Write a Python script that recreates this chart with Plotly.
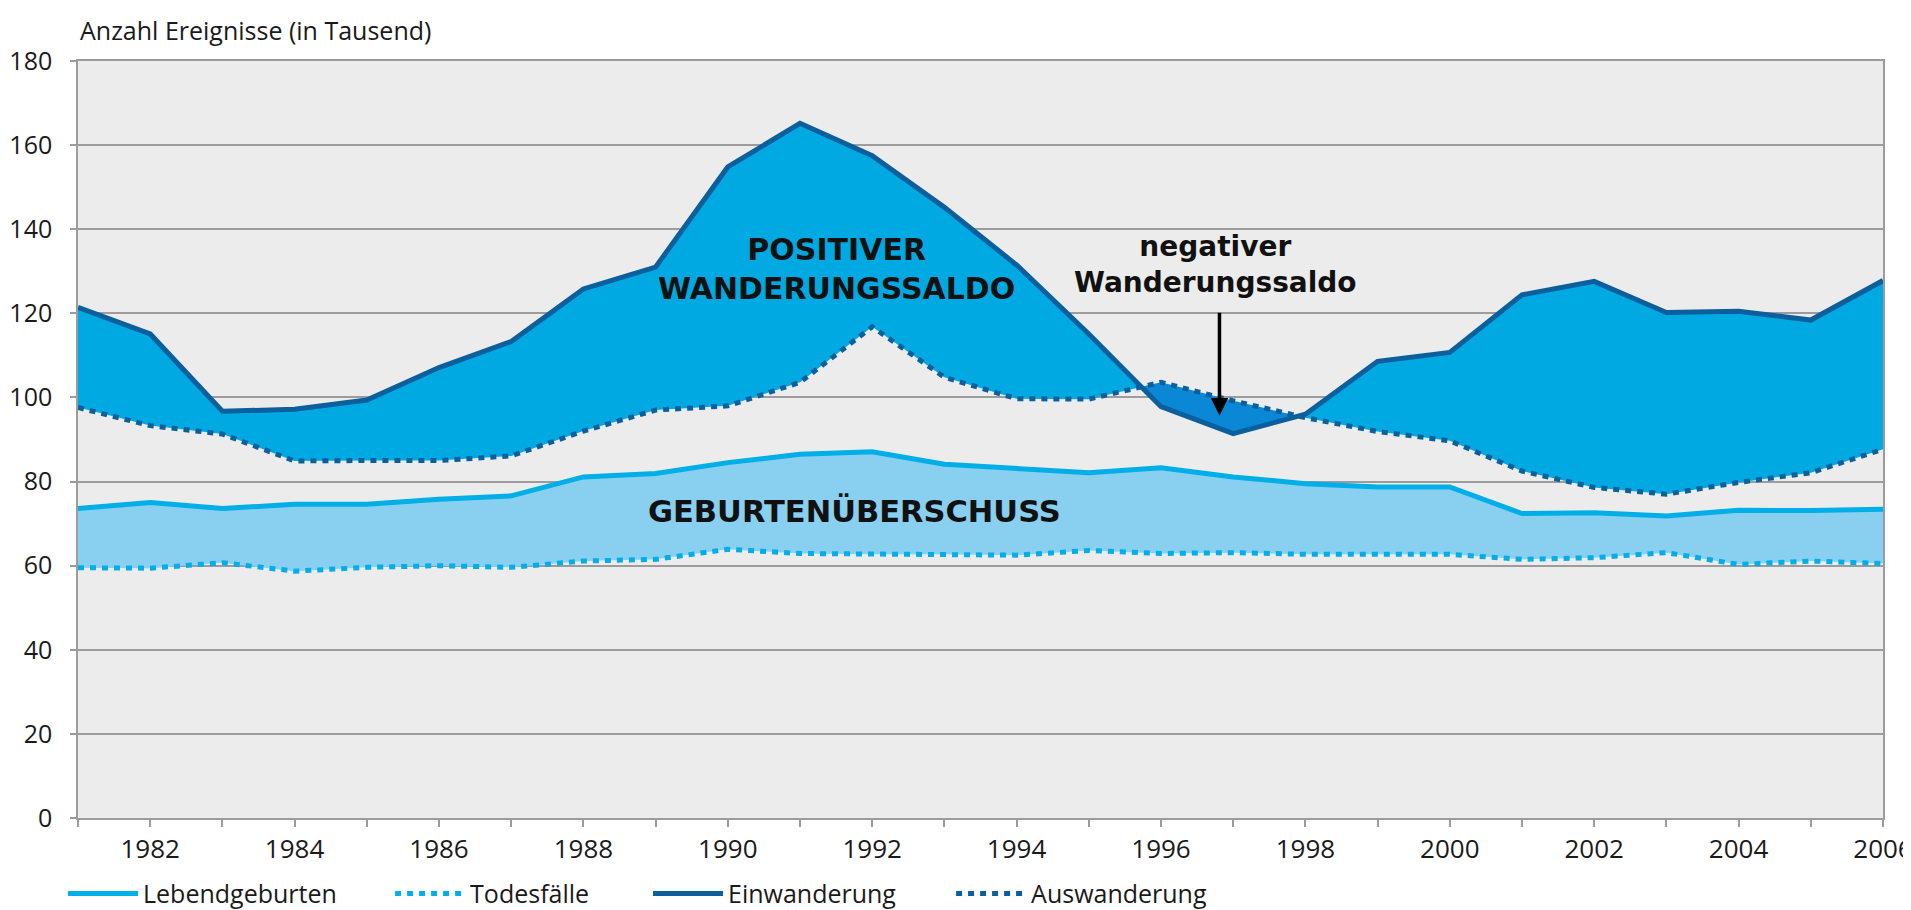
import plotly.graph_objects as go

years = list(range(1981, 2007))
einwanderung = [121.4, 115.1, 96.7, 97.2, 99.4, 107.1, 113.3, 125.8, 131.0, 154.8, 165.2, 157.5, 145.2,
                131.5, 115.1, 97.8, 91.4, 96.0, 108.6, 110.7, 124.4, 127.6, 120.2, 120.5, 118.4, 127.8]
auswanderung = [97.6, 93.3, 91.3, 84.9, 85.0, 85.0, 86.1, 92.0, 97.0, 98.0, 103.6, 116.8, 104.8,
                99.7, 99.6, 103.6, 99.2, 95.2, 91.9, 89.7, 82.5, 78.6, 77.0, 79.8, 82.1, 87.7]
lebendgeburten = [73.6, 75.0, 73.6, 74.6, 74.6, 75.8, 76.6, 81.1, 81.9, 84.5, 86.5, 87.1, 84.1,
                  83.1, 82.1, 83.3, 81.1, 79.5, 78.7, 78.7, 72.4, 72.6, 71.8, 73.2, 73.1, 73.4]
todesfaelle = [59.5, 59.4, 60.7, 58.7, 59.6, 60.0, 59.6, 61.1, 61.5, 63.9, 62.9, 62.7, 62.7,
               62.5, 63.6, 62.9, 63.1, 62.7, 62.7, 62.7, 61.5, 61.9, 63.1, 60.3, 61.1, 60.5]

tick_years = list(range(1981, 2007))
tick_text = [str(y) if y % 2 == 0 else "" for y in tick_years]
y_ticks = list(range(0, 181, 20))

C_BIRTH = "#00aee8"
C_MIG = "#0a5f9c"
F_BIRTH = "#88cff0"
F_POS = "#00a9e2"
F_NEG = "#0a88d6"


def augment(x, a, b):
    """insert crossing points of a and b so fills can be split by sign"""
    xs, aa, bb = [x[0]], [a[0]], [b[0]]
    for i in range(1, len(x)):
        d0 = a[i - 1] - b[i - 1]
        d1 = a[i] - b[i]
        if d0 * d1 < 0:
            t = d0 / (d0 - d1)
            xc = x[i - 1] + t * (x[i] - x[i - 1])
            yc = a[i - 1] + t * (a[i] - a[i - 1])
            xs.append(xc); aa.append(yc); bb.append(yc)
        xs.append(x[i]); aa.append(a[i]); bb.append(b[i])
    return xs, aa, bb


xa, ea, aa = augment(years, einwanderung, auswanderung)
upper = [max(e, a) for e, a in zip(ea, aa)]
lower = [min(e, a) for e, a in zip(ea, aa)]

fig = go.Figure()
nol = dict(width=0)
# births surplus fill
fig.add_trace(go.Scatter(x=years, y=todesfaelle, mode="lines", line=nol, showlegend=False, hoverinfo="skip"))
fig.add_trace(go.Scatter(x=years, y=lebendgeburten, mode="lines", line=nol, fill="tonexty",
                         fillcolor=F_BIRTH, showlegend=False, hoverinfo="skip"))
# positive migration balance
fig.add_trace(go.Scatter(x=xa, y=aa, mode="lines", line=nol, showlegend=False, hoverinfo="skip"))
fig.add_trace(go.Scatter(x=xa, y=upper, mode="lines", line=nol, fill="tonexty",
                         fillcolor=F_POS, showlegend=False, hoverinfo="skip"))
# negative migration balance
fig.add_trace(go.Scatter(x=xa, y=aa, mode="lines", line=nol, showlegend=False, hoverinfo="skip"))
fig.add_trace(go.Scatter(x=xa, y=lower, mode="lines", line=nol, fill="tonexty",
                         fillcolor=F_NEG, showlegend=False, hoverinfo="skip"))

dots = "6px,6px"
fig.add_trace(go.Scatter(x=years, y=lebendgeburten, mode="lines", name="Lebendgeburten",
                         line=dict(color=C_BIRTH, width=5), legend="legend"))
fig.add_trace(go.Scatter(x=years, y=todesfaelle, mode="lines", name="Todesfälle",
                         line=dict(color=C_BIRTH, width=5, dash=dots), legend="legend2"))
fig.add_trace(go.Scatter(x=years, y=einwanderung, mode="lines", name="Einwanderung",
                         line=dict(color=C_MIG, width=5), legend="legend3"))
fig.add_trace(go.Scatter(x=years, y=auswanderung, mode="lines", name="Auswanderung",
                         line=dict(color=C_MIG, width=5, dash=dots), legend="legend4"))

FONT = "Open Sans"
GRID = "#9c9c9c"


def leg(xpos):
    return dict(orientation="h", x=xpos, xanchor="left", y=-0.10, yanchor="middle",
                font=dict(family=FONT, size=25, color="#1a1a1a"), itemwidth=70,
                bgcolor="rgba(0,0,0,0)")


fig.update_layout(
    width=1911, height=910,
    margin=dict(l=70, r=36, t=53, b=100, autoexpand=False),
    paper_bgcolor="white", plot_bgcolor="#ebeceb",
    font=dict(family=FONT, size=24, color="#1a1a1a"),
    showlegend=True,
    legend=leg(-0.0083), legend2=leg(0.1729), legend3=leg(0.3158), legend4=leg(0.4837),
    xaxis=dict(range=[1981, 2006], tickmode="array", tickvals=tick_years, ticktext=tick_text,
               ticks="outside", ticklen=7, tickcolor=GRID, tickwidth=1.5,
               showgrid=False, zeroline=False, showline=True, linecolor=GRID, linewidth=1.5,
               mirror=True, ticklabelstandoff=0, tickfont=dict(size=26)),
    yaxis=dict(range=[0, 180], tickmode="array", tickvals=y_ticks,
               ticks="outside", ticklen=6, tickcolor=GRID, tickwidth=1.5,
               showgrid=True, gridcolor=GRID, gridwidth=1.5, zeroline=False,
               showline=True, linecolor=GRID, linewidth=1.5, mirror=True,
               ticklabelstandoff=13, tickfont=dict(size=25)),
    hovermode=False,
)

ANN = "DejaVu Sans"
fig.add_annotation(text="Anzahl Ereignisse (in Tausend)", xref="paper", yref="paper", x=0, y=1.041,
                   xanchor="left", yanchor="middle", showarrow=False,
                   font=dict(family=FONT, size=25, color="#1a1a1a"))
fig.add_annotation(text="POSITIVER<br>WANDERUNGSSALDO", x=1991.5, y=130.5, xanchor="center", yanchor="middle",
                   showarrow=False, font=dict(family=ANN, size=30, color="#111111", weight="bold"))
fig.add_annotation(text="GEBURTENÜBERSCHUSS", x=1991.75, y=73.1, xanchor="center", yanchor="middle",
                   showarrow=False, font=dict(family=ANN, size=30.5, color="#111111", weight="bold"))
fig.add_annotation(text="negativer<br>Wanderungssaldo", x=1996.75, y=131.5, xanchor="center", yanchor="middle",
                   showarrow=False, font=dict(family=ANN, size=28, color="#111111", weight="bold"))
fig.add_annotation(text="", x=1996.81, y=95.7, ax=1996.81, ay=120.5, axref="x", ayref="y",
                   showarrow=True, arrowhead=2, arrowsize=1, arrowwidth=3.5, arrowcolor="#000000")

fig.write_html("out.html")
